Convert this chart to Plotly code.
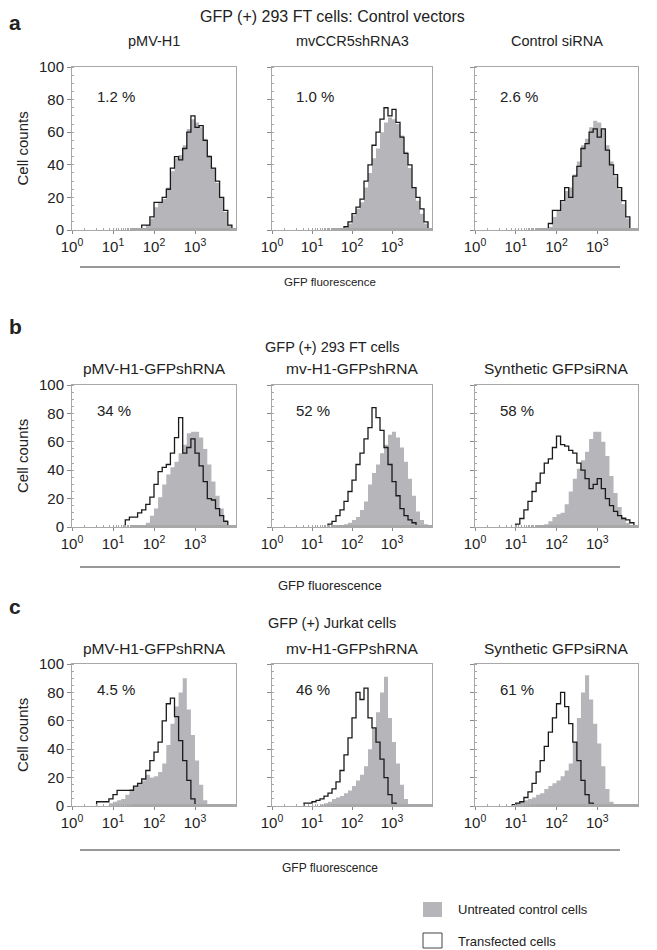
import plotly.graph_objects as go

W, H = 657, 950
PAGE_OFFSET = 8  # browser body margin

# ---------------- text content ----------------
ROW_LETTERS = ["a", "b", "c"]
ROW_TITLES = ["GFP (+) 293 FT cells: Control vectors",
              "GFP (+) 293 FT cells",
              "GFP (+) Jurkat cells"]
PANEL_TITLES = [["pMV-H1", "mvCCR5shRNA3", "Control siRNA"],
                ["pMV-H1-GFPshRNA", "mv-H1-GFPshRNA", "Synthetic GFPsiRNA"],
                ["pMV-H1-GFPshRNA", "mv-H1-GFPshRNA", "Synthetic GFPsiRNA"]]
PERCENTS = [["1.2 %", "1.0 %", "2.6 %"],
            ["34 %", "52 %", "58 %"],
            ["4.5 %", "46 %", "61 %"]]
Y_TICKS = [0, 20, 40, 60, 80, 100]
X_TICKS = [1, 10, 100, 1000]
X_TICK_TEXT = ["10<sup>0</sup>", "10<sup>1</sup>", "10<sup>2</sup>", "10<sup>3</sup>"]
LEGEND_LABELS = ["Untreated control cells", "Transfected cells"]

# ---------------- histogram data ----------------
# counts per 0.1-decade channel, starting at the given log10(fluorescence)
BIN_LOG = 0.1

A1_CTRL_START = 1.8
A1_CTRL = [3, 7, 14, 17, 19, 26, 36, 44, 46, 52, 62, 68, 66, 63, 56, 46, 38, 29, 20, 11, 3, 0]
A1_TRANS_START = 1.7
A1_TRANS = [3, 3, 8, 17, 17, 20, 25, 38, 45, 43, 50, 60, 70, 63, 64, 55, 45, 38, 30, 20, 12, 3, 0]

A2_CTRL_START = 1.8
A2_CTRL = [1, 4, 9, 13, 17, 26, 35, 44, 50, 60, 66, 69, 68, 65, 58, 48, 38, 26, 18, 10, 4, 0]
A2_TRANS_START = 1.8
A2_TRANS = [2, 5, 10, 14, 19, 30, 40, 52, 60, 68, 75, 70, 74, 66, 57, 47, 40, 26, 20, 13, 5, 0]

A3_CTRL_START = 1.8
A3_CTRL = [2, 8, 12, 17, 24, 26, 34, 42, 52, 56, 63, 67, 66, 62, 52, 42, 33, 25, 16, 7, 1, 0]
A3_TRANS_START = 1.8
A3_TRANS = [4, 12, 12, 18, 26, 20, 33, 39, 50, 53, 60, 62, 57, 62, 49, 40, 34, 26, 18, 8, 0]

B1_CTRL_START = 1.8
B1_CTRL = [3, 8, 13, 21, 30, 37, 42, 46, 52, 58, 66, 67, 67, 63, 55, 44, 32, 22, 13, 5, 0]
B1_TRANS_START = 1.3
B1_TRANS = [5, 7, 7, 10, 12, 16, 21, 30, 39, 42, 44, 52, 63, 77, 52, 56, 62, 52, 43, 32, 20, 19, 13, 8, 4, 0]

B2_CTRL_START = 1.8
B2_CTRL = [2, 3, 5, 7, 12, 18, 30, 38, 44, 52, 58, 65, 67, 63, 56, 46, 34, 22, 11, 5, 2, 0]
B2_TRANS_START = 1.4
B2_TRANS = [2, 4, 8, 12, 18, 25, 33, 44, 52, 62, 70, 84, 77, 68, 56, 44, 32, 22, 13, 8, 5, 3, 1, 0]

B3_CTRL_START = 1.7
B3_CTRL = [2, 4, 7, 9, 10, 16, 25, 34, 41, 47, 53, 62, 67, 67, 60, 50, 36, 24, 14, 7, 3, 0]
B3_TRANS_START = 1.0
B3_TRANS = [2, 6, 12, 18, 25, 31, 38, 45, 48, 56, 64, 58, 57, 54, 52, 45, 40, 34, 27, 30, 34, 27,
            20, 15, 11, 8, 6, 5, 3, 0]

C1_CTRL_START = 0.9
C1_CTRL = [2, 3, 4, 5, 8, 12, 14, 16, 18, 22, 20, 21, 24, 30, 43, 58, 70, 80, 90, 68, 50, 32, 15, 4, 0]
C1_TRANS_START = 0.6
C1_TRANS = [3, 3, 3, 5, 8, 11, 11, 11, 11, 14, 16, 19, 25, 32, 38, 45, 60, 72, 76, 63, 46, 32, 18, 5, 0]

C2_CTRL_START = 1.2
C2_CTRL = [1, 2, 3, 5, 6, 7, 9, 11, 14, 18, 22, 28, 40, 55, 66, 80, 91, 62, 45, 30, 15, 5, 0]
C2_TRANS_START = 0.8
C2_TRANS = [2, 2, 3, 4, 5, 7, 9, 12, 17, 25, 36, 48, 62, 80, 75, 83, 62, 55, 45, 33, 20, 8, 2, 0]

C3_CTRL_START = 1.0
C3_CTRL = [2, 3, 4, 5, 6, 8, 9, 12, 14, 16, 18, 21, 25, 30, 45, 62, 80, 92, 75, 58, 44, 28, 12, 3, 0]
C3_TRANS_START = 0.9
C3_TRANS = [1, 2, 3, 6, 10, 16, 24, 32, 42, 52, 62, 72, 80, 70, 58, 45, 32, 18, 8, 2, 0]

SERIES = [
    [(A1_CTRL_START, A1_CTRL, A1_TRANS_START, A1_TRANS),
     (A2_CTRL_START, A2_CTRL, A2_TRANS_START, A2_TRANS),
     (A3_CTRL_START, A3_CTRL, A3_TRANS_START, A3_TRANS)],
    [(B1_CTRL_START, B1_CTRL, B1_TRANS_START, B1_TRANS),
     (B2_CTRL_START, B2_CTRL, B2_TRANS_START, B2_TRANS),
     (B3_CTRL_START, B3_CTRL, B3_TRANS_START, B3_TRANS)],
    [(C1_CTRL_START, C1_CTRL, C1_TRANS_START, C1_TRANS),
     (C2_CTRL_START, C2_CTRL, C2_TRANS_START, C2_TRANS),
     (C3_CTRL_START, C3_CTRL, C3_TRANS_START, C3_TRANS)],
]

# ---------------- layout (screen pixels) ----------------
COL_X = [(72, 236), (272, 432), (475, 638)]
ROW_Y = [(67, 230), (385, 527), (664, 806)]
ROW_LETTER_Y = [22, 326, 606]
ROW_TITLE_Y = [17, 347, 623]
PANEL_TITLE_Y = [41, 368, 648]
ROW_LINE_Y = [267, 567, 850]
XLABEL_Y = [282, 585, 868]
XLABEL_SIZE = [11.5, 13, 12]
ROW_TITLE_SIZE = [16, 14.5, 14.5]
PANEL_TITLE_SIZE = [14.5, 15.5, 15.5]

FONT = "Liberation Sans, Arial, sans-serif"
GRAY_FILL = "#b6b6ba"
FRAME = "#a8a8a8"
AXIS_DARK = "#8a8a8a"


def px(x):
    return (x - PAGE_OFFSET) / W


def py(y):
    return 1 - (y - PAGE_OFFSET) / H


def steps(start, counts):
    xs = [10 ** (start + i * BIN_LOG) for i in range(len(counts))]
    xs = [10 ** start] + xs
    ys = [0] + list(counts)
    return xs, ys


fig = go.Figure()
layout = dict(
    width=W, height=H,
    margin=dict(l=0, r=0, t=0, b=0, pad=0, autoexpand=False),
    paper_bgcolor="white", plot_bgcolor="white",
    showlegend=False,
    font=dict(family=FONT, color="#222", size=14),
)
annotations = []
shapes = []

k = 0
for r in range(3):
    for c in range(3):
        k += 1
        xn = "x" if k == 1 else f"x{k}"
        yn = "y" if k == 1 else f"y{k}"
        xk = "xaxis" if k == 1 else f"xaxis{k}"
        yk = "yaxis" if k == 1 else f"yaxis{k}"
        cs, cv, ts, tv = SERIES[r][c]
        gx, gy = steps(cs, cv)
        fig.add_trace(go.Scatter(x=gx, y=gy, xaxis=xn, yaxis=yn, mode="lines",
                                 line=dict(shape="hv", width=0, color=GRAY_FILL),
                                 fill="tozeroy", fillcolor=GRAY_FILL, hoverinfo="skip"))
        bx, by = steps(ts, tv)
        fig.add_trace(go.Scatter(x=bx, y=by, xaxis=xn, yaxis=yn, mode="lines",
                                 line=dict(shape="hv", width=1.3, color="#1a1a1a"),
                                 hoverinfo="skip"))
        x0, x1 = COL_X[c]
        y0, y1 = ROW_Y[r]
        layout[xk] = dict(
            type="log", range=[0, 4], domain=[px(x0), px(x1)], anchor=yn,
            tickvals=X_TICKS, ticktext=X_TICK_TEXT, tickfont=dict(size=15),
            showline=True, mirror=True, linecolor=FRAME, linewidth=1,
            ticks="outside", ticklen=3, tickcolor=AXIS_DARK,
            minor=dict(ticks="inside", ticklen=2, tickcolor=FRAME),
            showgrid=False, zeroline=False, fixedrange=True, automargin=False,
        )
        layout[yk] = dict(
            range=[0, 100], domain=[py(y1), py(y0)], anchor=xn,
            tickvals=Y_TICKS, showticklabels=(c == 0), tickfont=dict(size=15),
            showline=True, mirror=True, linecolor=FRAME, linewidth=1,
            ticks="outside", ticklen=4, tickcolor=AXIS_DARK,
            minor=dict(dtick=5, ticks="inside", ticklen=2, tickcolor=FRAME),
            showgrid=False, zeroline=False, fixedrange=True, automargin=False,
        )
        # panel subtitle
        annotations.append(dict(x=px((x0 + x1) / 2), y=py(PANEL_TITLE_Y[r]), xref="paper", yref="paper",
                                text=PANEL_TITLES[r][c], showarrow=False,
                                font=dict(size=PANEL_TITLE_SIZE[r]),
                                xanchor="center", yanchor="middle"))
        # percentage
        annotations.append(dict(x=0.14, y=0.82, xref=f"{xn} domain", yref=f"{yn} domain",
                                text=PERCENTS[r][c], showarrow=False, font=dict(size=15),
                                xanchor="left", yanchor="middle"))
    # row decorations
    annotations.append(dict(x=px(15), y=py(ROW_LETTER_Y[r]), xref="paper", yref="paper",
                            text=f"<b>{ROW_LETTERS[r]}</b>", showarrow=False, font=dict(size=21),
                            xanchor="center", yanchor="middle"))
    annotations.append(dict(x=px(332), y=py(ROW_TITLE_Y[r]), xref="paper", yref="paper",
                            text=ROW_TITLES[r], showarrow=False, font=dict(size=ROW_TITLE_SIZE[r]),
                            xanchor="center", yanchor="middle"))
    annotations.append(dict(x=px(22), y=py((ROW_Y[r][0] + ROW_Y[r][1]) / 2), xref="paper", yref="paper",
                            text="Cell counts", textangle=-90, showarrow=False, font=dict(size=15),
                            xanchor="center", yanchor="middle"))
    annotations.append(dict(x=px(330), y=py(XLABEL_Y[r]), xref="paper", yref="paper",
                            text="GFP fluorescence", showarrow=False, font=dict(size=XLABEL_SIZE[r]),
                            xanchor="center", yanchor="middle"))
    shapes.append(dict(type="line", xref="paper", yref="paper",
                       x0=px(80), x1=px(620), y0=py(ROW_LINE_Y[r]), y1=py(ROW_LINE_Y[r]),
                       line=dict(color="#333", width=1.2)))

# legend
shapes.append(dict(type="rect", xref="paper", yref="paper", x0=px(423), x1=px(442),
                   y0=py(917), y1=py(902), fillcolor=GRAY_FILL, line=dict(width=0)))
shapes.append(dict(type="rect", xref="paper", yref="paper", x0=px(423), x1=px(442),
                   y0=py(948), y1=py(933), fillcolor="white", line=dict(color="#444", width=1)))
for lbl, yy in zip(LEGEND_LABELS, [909, 941]):
    annotations.append(dict(x=px(456), y=py(yy), xref="paper", yref="paper", text=lbl,
                            showarrow=False, font=dict(size=13), xanchor="left", yanchor="middle"))

layout["annotations"] = annotations
layout["shapes"] = shapes
fig.update_layout(**layout)
fig.write_html("out.html")
